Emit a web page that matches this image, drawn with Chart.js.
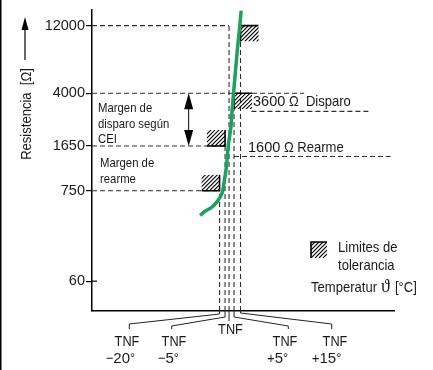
<!DOCTYPE html>
<html>
<head>
<meta charset="utf-8">
<script src="https://cdn.jsdelivr.net/npm/chart.js@4.4.1/dist/chart.umd.min.js"></script>
<style>
  html, body { margin: 0; padding: 0; background: #fff; }
  #wrap { position: relative; width: 433px; height: 370px; }
</style>
</head>
<body>
<div id="wrap"><canvas id="chart"></canvas></div>
<script>
// PTC sensor characteristic (schematic): resistance vs. temperature around TNF.
const yTickValues = [60, 750, 1650, 4000, 12000];
const yTickLabels = ['60', '750', '1650', '4000', '12000'];

// green curve: temperature relative to TNF [°C], resistance [Ω]
const curveTemp = [-39.8, -35.2, -28.4, -21.7, -12.6, -8.3, -3.5, -1.0, 2.0, 3.0, 4.5, 9.9, 13.9, 15.6];
const curveOhm = [375, 419, 468, 568, 710, 848, 1122, 1650, 2305, 2960, 4000, 7900, 12000, 15300];

const tnfOffsets = [-20, -5, 0, 5, 15];
const tnfLabels = [['TNF', '−20°'], ['TNF', '−5°'], ['TNF'], ['TNF', '+5°'], ['TNF', '+15°']];
const tnfTopOhm = [750, 1650, 12000, 4000, 12000];

// tolerance corners
const tolTemp = [-20, -5, 5, 15];
const tolOhm = [750, 1650, 4000, 12000];
const tolSide = ['below', 'below', 'above', 'above'];

// dashed levels from the y axis and where they stop
const refOhm = [12000, 4000, 1650, 750];
const refEndTemp = [0, 71, -5, -20];

const tripOhm = 2950;
const tripTemp = [24.6, 129.8];
const resetOhm = 1370;
const resetTemp = [5, 147];

const ceiTemp = -51.5;
const ceiOhm = [1650, 4000];

// The drawing is not to scale: both axes are stretched piecewise.
const SCHEMA = {
  x: { from: [-150, -20, -5, 0, 5, 15, 150], to: [0, 128, 133.5, 137.5, 142.5, 149, 303], log: false, ticks: [] },
  y: { from: [60, 750, 1650, 4000, 12000], to: [30, 121, 166, 219, 287], log: true, ticks: yTickValues },
};

function interp(v, xs, ys) {
  let i = 1;
  while (i < xs.length - 1 && v > xs[i]) i++;
  const t = (v - xs[i - 1]) / (xs[i] - xs[i - 1]);
  return ys[i - 1] + t * (ys[i] - ys[i - 1]);
}
const fwd = (s, v) => s.log ? interp(Math.log10(v), s.from.map(Math.log10), s.to) : interp(v, s.from, s.to);
const inv = (s, p) => s.log ? Math.pow(10, interp(p, s.to, s.from.map(Math.log10))) : interp(p, s.to, s.from);

class SchematicScale extends Chart.LinearScale {
  static id = 'schematic';
  static defaults = Chart.LinearScale.defaults;
  buildTicks() {
    return SCHEMA[this.id].ticks.map((v) => ({ value: v }));
  }
  configure() {
    super.configure();
    const s = SCHEMA[this.id];
    this._startValue = fwd(s, this.min);
    this._endValue = fwd(s, this.max);
    this._valueRange = this._endValue - this._startValue;
  }
  getPixelForValue(v) {
    if (v == null || Number.isNaN(v)) return NaN;
    return this.getPixelForDecimal((fwd(SCHEMA[this.id], v) - this._startValue) / this._valueRange);
  }
  getValueForPixel(px) {
    return inv(SCHEMA[this.id], this._startValue + this.getDecimalForPixel(px) * this._valueRange);
  }
}
Chart.register(SchematicScale);

const FONT = "'Liberation Sans', Arial, sans-serif";
const INK = '#1a1a1a';

// The original face is narrower than Arial in its letters but not its digits.
function runs(str) { return str.match(/\d+|\D+/g) || []; }
function say(c, str, x, y, size, align = 'left', k = 0.9) {
  c.font = `${size}px ${FONT}`;
  c.textAlign = 'left';
  const parts = runs(str).map((r) => ({ r, k: /\d/.test(r) ? 1 : k }));
  const w = parts.reduce((a, p) => a + c.measureText(p.r).width * p.k, 0);
  let cx = align === 'center' ? x - w / 2 : align === 'right' ? x - w : x;
  for (const p of parts) {
    c.save();
    c.translate(cx, y);
    c.scale(p.k, 1);
    c.fillText(p.r, 0, 0);
    c.restore();
    cx += c.measureText(p.r).width * p.k;
  }
  return cx;
}

const X_LEFT = inv(SCHEMA.x, 0);
const X_RIGHT = inv(SCHEMA.x, 303);
const OHM_BOTTOM = inv(SCHEMA.y, 0);
const OHM_TOP = inv(SCHEMA.y, 303);

const dashed = (pts) => ({
  data: pts, borderColor: '#2e2e2e', borderWidth: 1.1, borderDash: [5, 3],
  pointRadius: 0, tension: 0, fill: false,
});

function hatchBox(c, px, py, side, w, h) {
  const x0 = side === 'above' ? px : px - w;
  const y0 = side === 'above' ? py : py - h;
  c.save();
  c.beginPath();
  c.rect(x0, y0, w, h);
  c.clip();
  c.strokeStyle = '#000';
  c.lineWidth = 1.1;
  c.beginPath();
  for (let k = -h; k < w + 4; k += 4) {
    c.moveTo(x0 + k, y0 + h);
    c.lineTo(x0 + k + h, y0);
  }
  c.stroke();
  c.restore();
  c.save();
  c.strokeStyle = '#000';
  c.lineWidth = 1.6;
  c.beginPath();
  if (side === 'above') {
    c.moveTo(px, py + h); c.lineTo(px, py); c.lineTo(px + w, py);
  } else {
    c.moveTo(px - w, py); c.lineTo(px, py); c.lineTo(px, py - h);
  }
  c.stroke();
  c.restore();
}

function arrowHead(c, x, tipY, dir, len, half) {
  c.beginPath();
  c.moveTo(x, tipY);
  c.lineTo(x - half, tipY + dir * len);
  c.lineTo(x + half, tipY + dir * len);
  c.closePath();
  c.fill();
}

const annotate = {
  id: 'annotate',
  beforeDatasetDraw(chart, args) {
    if (args.index !== 0) return;  // boxes sit right under the curve
    const { x, y } = chart.scales;
    tolTemp.forEach((t, i) => hatchBox(chart.ctx, x.getPixelForValue(t), y.getPixelForValue(tolOhm[i]), tolSide[i], 18, 16));
  },
  afterDraw(chart) {
    const { x, y } = chart.scales;
    const c = chart.ctx;
    const area = chart.chartArea;
    c.save();
    c.fillStyle = '#000';
    c.fillRect(0, 0, 1.5, chart.height);

    // y title + arrow
    c.fillStyle = INK;
    c.save();
    c.translate(31, 114);
    c.rotate(-Math.PI / 2);
    say(c, 'Resistencia  [Ω]', 0, 0, 14.5, 'center');
    c.restore();
    c.strokeStyle = '#000';
    c.fillStyle = '#000';
    c.lineWidth = 1.2;
    c.beginPath(); c.moveTo(25, 60); c.lineTo(25, 26); c.stroke();
    arrowHead(c, 25, 17, 1, 13, 3.5);

    // tick at 60 crosses the axis
    const y60 = y.getPixelForValue(60);
    c.beginPath(); c.moveTo(area.left, y60); c.lineTo(area.left + 5, y60); c.stroke();

    // CEI trip margin arrow
    const ax = x.getPixelForValue(ceiTemp);
    const aTop = y.getPixelForValue(ceiOhm[1]);
    const aBot = y.getPixelForValue(ceiOhm[0]);
    c.lineWidth = 1;
    c.beginPath(); c.moveTo(ax, aTop + 10); c.lineTo(ax, aBot - 10); c.stroke();
    arrowHead(c, ax, aTop, 1, 16, 4.5);
    arrowHead(c, ax, aBot, -1, 16, 4.5);

    // texts
    c.fillStyle = INK;
    say(c, 'Margen de', 98, 112, 13.5, 'left', 0.84);
    say(c, 'disparo según', 98, 128, 13.5, 'left', 0.84);
    say(c, 'CEI', 98, 143, 13.5, 'left', 0.84);
    say(c, 'Margen de', 100, 167, 13.5, 'left', 0.84);
    say(c, 'rearme', 100, 183, 13.5, 'left', 0.84);
    say(c, '3600 Ω  Disparo', 253, 106, 14.5);
    say(c, '1600 Ω Rearme', 248, 152, 14.5);
    say(c, 'Limites de', 338, 252, 14.5);
    say(c, 'tolerancia', 338, 270, 14.5);
    let tx = say(c, 'Temperatur', 311, 292, 14.5) + 4;
    c.font = "18px 'Liberation Serif', serif";
    c.textAlign = 'left';
    c.fillText('ϑ', tx, 292);
    tx += c.measureText('ϑ').width + 5;
    say(c, '[°C]', tx, 292, 14.5);

    // legend swatch
    hatchBox(c, 311, 242, 'above', 16, 16);

    // TNF leaders and labels
    const leadX = [129.3, 171.7, 230, 288.3, 331.7];
    const bendY = [314, 317, 0, 317, 313];
    const endY = [324, 326, 321, 326, 324];
    const labelX = [127, 174, 230.5, 285, 335];
    const line2X = [120.5, 168.5, 0, 277.7, 326.7];
    c.strokeStyle = '#222';
    c.lineWidth = 1;
    tnfOffsets.forEach((t, i) => {
      const px = x.getPixelForValue(t);
      c.beginPath();
      c.moveTo(px, area.bottom);
      if (tnfLabels[i].length > 1) {
        c.lineTo(px, bendY[i]);
        c.lineTo(leadX[i], endY[i]);
        c.lineTo(leadX[i], 329);
      } else {
        c.lineTo(px, endY[i]);
      }
      c.stroke();
      if (tnfLabels[i].length > 1) {
        say(c, tnfLabels[i][0], labelX[i], 346, 15, 'center', 0.85);
        say(c, tnfLabels[i][1], line2X[i], 363, 15, 'center', 0.85);
      } else {
        say(c, tnfLabels[i][0], labelX[i], 334, 15, 'center', 0.85);
      }
    });
    c.restore();
  },
};

const datasets = [
  {
    data: curveTemp.map((t, i) => ({ x: t, y: curveOhm[i] })),
    borderColor: '#1ba35e', borderWidth: 3.5, pointRadius: 0, tension: 0.3, fill: false,
  },
  ...tnfOffsets.map((t, i) => dashed([{ x: t, y: OHM_BOTTOM }, { x: t, y: tnfTopOhm[i] }])),
  ...refOhm.map((r, i) => dashed([{ x: X_LEFT, y: r }, { x: refEndTemp[i], y: r }])),
  dashed([{ x: tripTemp[0], y: tripOhm }, { x: tripTemp[1], y: tripOhm }]),
  dashed([{ x: resetTemp[0], y: resetOhm }, { x: resetTemp[1], y: resetOhm }]),
];

new Chart(document.getElementById('chart'), {
  type: 'line',
  data: { datasets },
  plugins: [annotate],
  options: {
    responsive: true,
    maintainAspectRatio: false,
    animation: false,
    layout: { padding: { top: 8, right: 39, left: 0, bottom: 0 } },
    plugins: { legend: { display: false }, tooltip: { enabled: false } },
    scales: {
      x: {
        type: 'schematic', min: X_LEFT, max: X_RIGHT,
        ticks: { display: false },
        grid: { display: false },
        border: { color: '#000', width: 1.5 },
        afterFit: (s) => { s.height = 59; },
      },
      y: {
        type: 'schematic', min: OHM_BOTTOM, max: OHM_TOP,
        ticks: {
          autoSkip: false, padding: 1, color: INK,
          font: { family: FONT, size: 14.5 },
          callback: (v, i) => yTickLabels[i],
        },
        grid: { drawOnChartArea: false, tickLength: 6, color: '#000', lineWidth: 1.2 },
        border: { color: '#000', width: 1.5 },
        afterFit: (s) => { s.width = 92; },
      },
    },
  },
});
</script>
</body>
</html>
